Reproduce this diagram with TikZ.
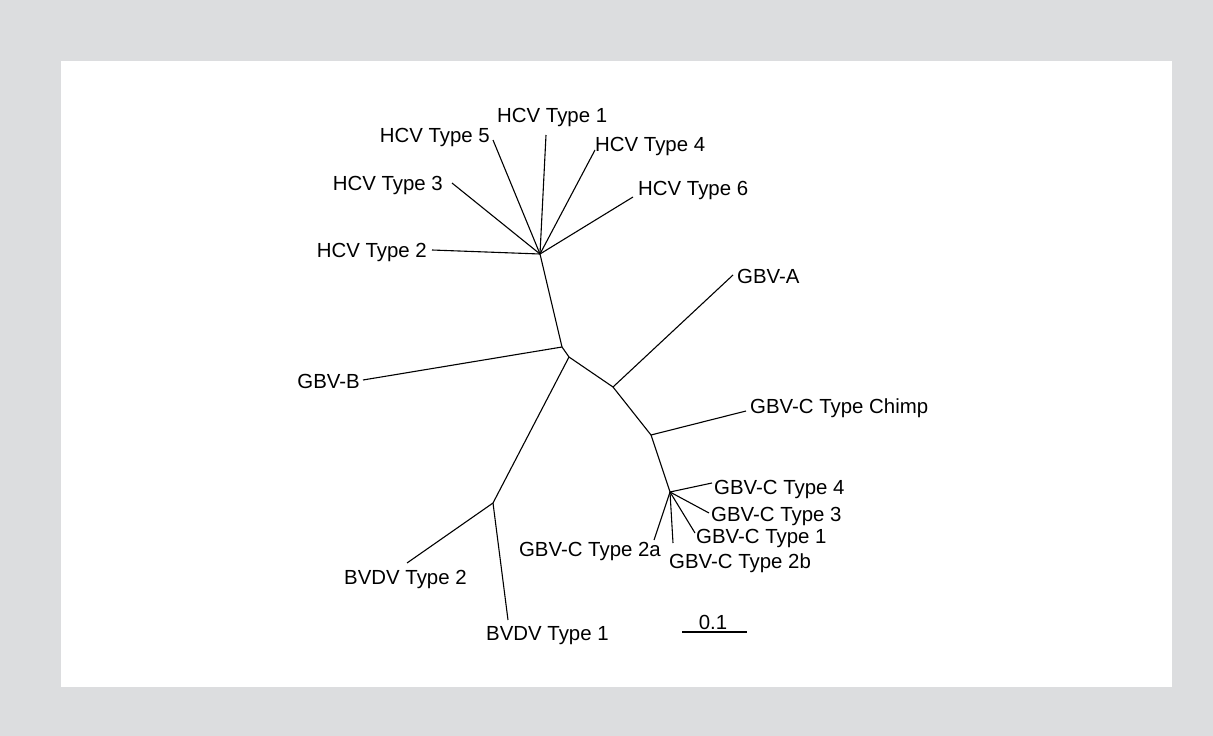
\documentclass[tikz,border=0pt]{standalone}
\usepackage{fontspec}
\setmainfont{Liberation Sans}
\definecolor{bggray}{RGB}{220,221,223}
\begin{document}
\begin{tikzpicture}[x=1pt,y=-1pt,
  branch/.style={line width=1.1pt,black},
  leaf/.style={inner sep=0pt,font=\fontsize{20.4}{24}\selectfont}]
\useasboundingbox (0,0) rectangle (1213,736);
\fill[bggray] (0,0) rectangle (1213,736);
\fill[white] (61,61) rectangle (1172,687);
% internal nodes
\coordinate (hcv) at (540,254);
\coordinate (n1) at (562,347);
\coordinate (n2) at (569,357);
\coordinate (n3) at (613,387);
\coordinate (n4) at (651,435);
\coordinate (gbvc) at (670,492);
\coordinate (bvdv) at (493,503);
% tips
\coordinate (t5) at (493,140);
\coordinate (t1) at (546,135);
\coordinate (t4) at (595,150);
\coordinate (t6) at (633,197);
\coordinate (t3) at (452,183);
\coordinate (t2) at (432,250);
\coordinate (tB) at (363,380);
\coordinate (tA) at (733,275);
\coordinate (tCh) at (746,411);
\coordinate (tc4) at (712,483);
\coordinate (tc3) at (709,513);
\coordinate (tc1) at (695,533);
\coordinate (tc2b) at (673,543);
\coordinate (tc2a) at (654,540);
\coordinate (tbv2) at (407,563);
\coordinate (tbv1) at (508,620);
\coordinate (s0) at (682,632);
\coordinate (s1) at (747,632);
% labels
\node[leaf,anchor=base west] (l1) at (497,122) {HCV Type 1};
\node[leaf,anchor=base east] (l5) at (490,142) {HCV Type 5};
\node[leaf,anchor=base west] (l4) at (595,151) {HCV Type 4};
\node[leaf,anchor=base west] (l6) at (638,195) {HCV Type 6};
\node[leaf,anchor=base east] (l3) at (443,190) {HCV Type 3};
\node[leaf,anchor=base east] (l2) at (427,257) {HCV Type 2};
\node[leaf,anchor=base east] (lB) at (360,388) {GBV-B};
\node[leaf,anchor=base west] (lA) at (737,283) {GBV-A};
\node[leaf,anchor=base west] (lCh) at (750,413) {GBV-C Type Chimp};
\node[leaf,anchor=base west] (lc4) at (714,494) {GBV-C Type 4};
\node[leaf,anchor=base west] (lc3) at (711,521) {GBV-C Type 3};
\node[leaf,anchor=base west] (lc1) at (696,543) {GBV-C Type 1};
\node[leaf,anchor=base west] (lc2b) at (669,568) {GBV-C Type 2b};
\node[leaf,anchor=base east] (lc2a) at (661,556) {GBV-C Type 2a};
\node[leaf,anchor=base west] (lbv2) at (344,584) {BVDV Type 2};
\node[leaf,anchor=base west] (lbv1) at (486,640) {BVDV Type 1};
\node[leaf,anchor=base] (lsc) at (713,629) {0.1};
% branches
\draw[branch] (hcv) -- (t5);
\draw[branch] (hcv) -- (t1);
\draw[branch] (hcv) -- (t4);
\draw[branch] (hcv) -- (t6);
\draw[branch] (hcv) -- (t3);
\draw[branch] (hcv) -- (t2);
\draw[branch] (hcv) -- (n1);
\draw[branch] (n1) -- (tB);
\draw[branch] (n1) -- (n2);
\draw[branch] (n2) -- (bvdv);
\draw[branch] (bvdv) -- (tbv2);
\draw[branch] (bvdv) -- (tbv1);
\draw[branch] (n2) -- (n3);
\draw[branch] (n3) -- (tA);
\draw[branch] (n3) -- (n4);
\draw[branch] (n4) -- (tCh);
\draw[branch] (n4) -- (gbvc);
\draw[branch] (gbvc) -- (tc4);
\draw[branch] (gbvc) -- (tc3);
\draw[branch] (gbvc) -- (tc1);
\draw[branch] (gbvc) -- (tc2b);
\draw[branch] (gbvc) -- (tc2a);
\draw[branch] (s0) -- (s1);
\end{tikzpicture}
\end{document}
